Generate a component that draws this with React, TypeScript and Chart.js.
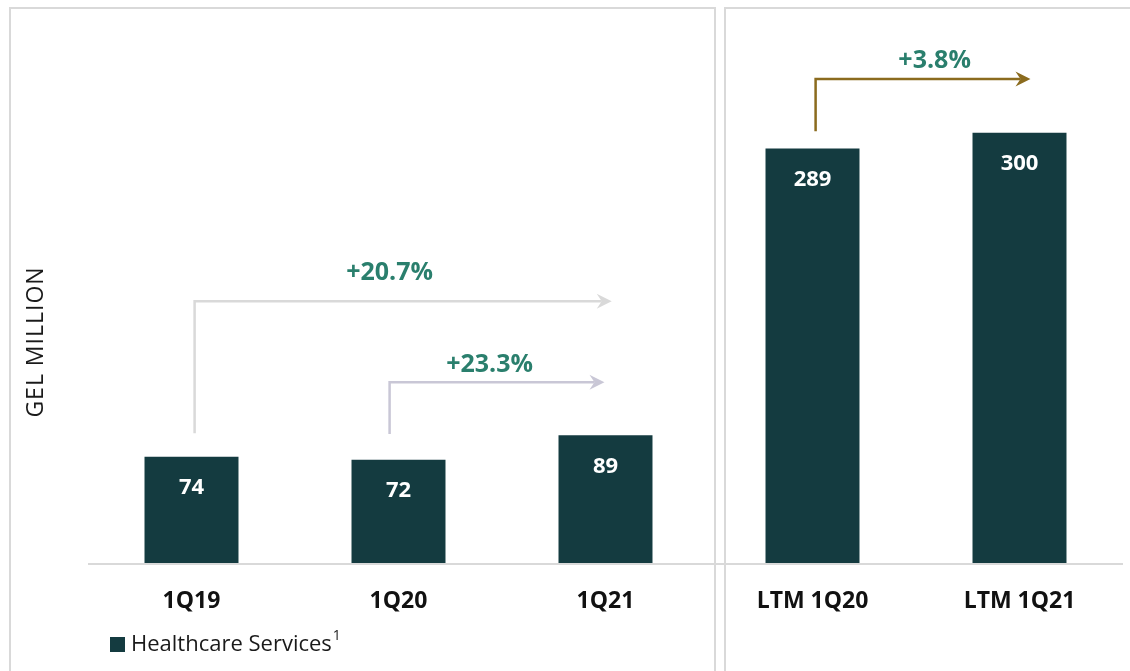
import React, { useEffect, useRef } from "react";
import { Chart, registerables } from "chart.js";

Chart.register(...registerables);

// ---- data ----
const categories = ["1Q19", "1Q20", "1Q21", "LTM 1Q20", "LTM 1Q21"];
const values = [74, 72, 89, 289, 300];
const seriesName = "Healthcare Services";
const seriesNote = "1";
const axisTitle = "GEL MILLION";

// growth call-outs (positions expressed on the chart's own scales)
const growthLabels = ["+20.7%", "+23.3%", "+3.8%"];
const growthStemX = [0.015, 0.957, 3.015]; // category position of the vertical stem
const growthTipX = [2.03, 1.995, 4.053]; // category position of the arrow tip
const growthStemBase = [90.5, 90, 301]; // value where the stem starts
const growthLevel = [182.5, 126, 337.5]; // value of the horizontal run
const growthLabelX = [0.957, 1.44, 3.59];
const growthLabelLevel = [202.5, 138, 350];
const growthColors = ["#d9d9d9", "#c9c7d6", "#8b6b1e"];

const BAR = "#143b40";
const GREEN = "#2a7f6d";
const GRID = "#d9d9d9";
const FONT = "'Open Sans', 'Noto Sans', sans-serif";

const decor = {
  id: "decor",
  beforeDatasetsDraw(chart: any) {
    const ctx = chart.ctx;
    const { chartArea } = chart;
    ctx.save();
    ctx.strokeStyle = GRID;
    ctx.lineWidth = 2;
    // panel frames
    ctx.beginPath();
    ctx.moveTo(10, 680);
    ctx.lineTo(10, 8);
    ctx.lineTo(715, 8);
    ctx.lineTo(715, 680);
    ctx.moveTo(725, 680);
    ctx.lineTo(725, 8);
    ctx.lineTo(1140, 8);
    ctx.stroke();
    // baseline
    const y0 = chart.scales.y.getPixelForValue(0);
    ctx.beginPath();
    ctx.moveTo(chartArea.left, y0 + 1);
    ctx.lineTo(chartArea.right, y0 + 1);
    ctx.stroke();
    ctx.restore();
  },
  afterDraw(chart: any) {
    const ctx = chart.ctx;
    const xs = chart.scales.x;
    const ys = chart.scales.y;
    ctx.save();

    // growth arrows
    growthLabels.forEach((lab, i) => {
      const sx = xs.getPixelForValue(growthStemX[i]);
      const tx = xs.getPixelForValue(growthTipX[i]);
      const yb = ys.getPixelForValue(growthStemBase[i]);
      const yl = ys.getPixelForValue(growthLevel[i]);
      ctx.strokeStyle = growthColors[i];
      ctx.fillStyle = growthColors[i];
      ctx.lineWidth = 2.5;
      ctx.lineJoin = "miter";
      ctx.beginPath();
      ctx.moveTo(sx, yb);
      ctx.lineTo(sx, yl);
      ctx.lineTo(tx - 10, yl);
      ctx.stroke();
      ctx.beginPath();
      ctx.moveTo(tx, yl);
      ctx.lineTo(tx - 15, yl - 7.5);
      ctx.lineTo(tx - 10, yl);
      ctx.lineTo(tx - 15, yl + 7.5);
      ctx.closePath();
      ctx.fill();

      ctx.fillStyle = GREEN;
      ctx.font = `bold 25px ${FONT}`;
      ctx.textAlign = "center";
      ctx.textBaseline = "middle";
      ctx.fillText(lab, xs.getPixelForValue(growthLabelX[i]), ys.getPixelForValue(growthLabelLevel[i]));
    });

    // value labels inside bars
    const meta = chart.getDatasetMeta(0);
    ctx.fillStyle = "#ffffff";
    ctx.font = `bold 22px ${FONT}`;
    ctx.textAlign = "center";
    ctx.textBaseline = "middle";
    meta.data.forEach((bar: any, i: number) => {
      ctx.fillText(String(values[i]), bar.x, bar.y + 31);
    });

    // axis title
    ctx.save();
    ctx.translate(36, 342);
    ctx.rotate(-Math.PI / 2);
    ctx.fillStyle = "#1a1a1a";
    ctx.font = `23px ${FONT}`;
    (ctx as any).letterSpacing = "1px";
    ctx.textAlign = "center";
    ctx.textBaseline = "middle";
    ctx.fillText(axisTitle, 0, 0);
    ctx.restore();

    // legend
    ctx.fillStyle = BAR;
    ctx.fillRect(110, 637, 15, 15);
    ctx.fillStyle = "#1a1a1a";
    ctx.font = `22px ${FONT}`;
    ctx.textAlign = "left";
    ctx.textBaseline = "middle";
    ctx.fillText(seriesName, 131, 645);
    const w = ctx.measureText(seriesName).width;
    ctx.font = `14px ${FONT}`;
    ctx.fillText(seriesNote, 131 + w + 1, 636);

    ctx.restore();
  },
};

export default function App() {
  const ref = useRef<HTMLCanvasElement | null>(null);
  useEffect(() => {
    if (!ref.current) return;
    const chart = new Chart(ref.current, {
      type: "bar",
      data: {
        labels: categories,
        datasets: [
          {
            label: seriesName,
            data: values,
            backgroundColor: BAR,
            borderWidth: 0,
            categoryPercentage: 1,
            barPercentage: 0.454,
          },
        ],
      },
      options: {
        responsive: false,
        animation: false,
        layout: { padding: { left: 88, right: 7, top: 18, bottom: 0 } },
        plugins: { legend: { display: false }, tooltip: { enabled: false } },
        scales: {
          x: {
            grid: { display: false, drawTicks: false },
            border: { display: false },
            ticks: {
              color: "#111111",
              font: { family: FONT, size: 23, weight: "bold" },
              padding: 25,
              maxRotation: 0,
              autoSkip: false,
            },
            afterFit: (s: any) => {
              s.height = 108;
            },
          },
          y: {
            display: false,
            min: 0,
            max: 380,
          },
        },
      },
      plugins: [decor],
    });
    return () => chart.destroy();
  }, []);
  return (
    <div style={{ position: "fixed", left: 0, top: 0, width: 1130, height: 671, background: "#fff" }}>
      <canvas ref={ref} width={1130} height={671} style={{ display: "block" }} />
    </div>
  );
}
